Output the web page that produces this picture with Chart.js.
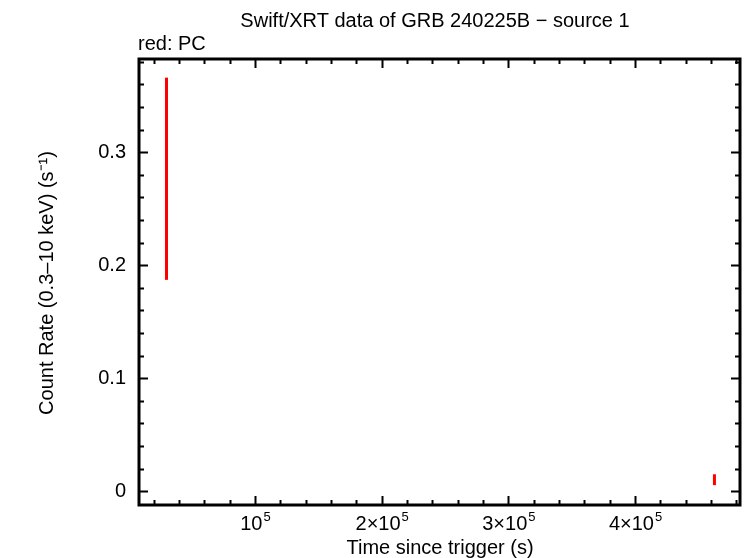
<!DOCTYPE html>
<html>
<head>
<meta charset="utf-8">
<script src="https://cdn.jsdelivr.net/npm/chart.js@4/dist/chart.umd.min.js"></script>
<style>
  html, body { margin: 0; padding: 0; background: #fff; }
  #wrap { width: 746px; height: 558px; }
</style>
</head>
<body>
<div id="wrap"><canvas id="lc" width="746" height="558"></canvas></div>
<script>
// PC mode points: time (s), count rate low / high edge of error bar (s^-1)
const pcTimes = [30150, 462700];
const pcRateLo = [0.187, 0.0053];
const pcRateHi = [0.366, 0.0149];

const xRange = [8445, 482870];
const yRange = [-0.0123, 0.3825];
const xMajor = [100000, 200000, 300000, 400000];
const xMant = ["", "2\u00d7", "3\u00d7", "4\u00d7"];
const yMajor = [0, 0.1, 0.2, 0.3];
const yLabels = ["0", "0.1", "0.2", "0.3"];

const font = "'Liberation Sans', Arial, sans-serif";

// one two-point dataset per error bar
let datasets = [];
for (let i = 0; i < pcTimes.length; i++) {
    datasets.push({
        data: [{x: pcTimes[i], y: pcRateLo[i]}, {x: pcTimes[i], y: pcRateHi[i]}],
        borderColor: "#ff0000",
        borderWidth: 3,
        pointRadius: 0,
        showLine: true,
        fill: false
    });
}

const framePlugin = {
    id: "frame",
    afterDraw(chart) {
        const ctx = chart.ctx;
        const a = chart.chartArea;
        const xs = chart.scales.x;
        const ys = chart.scales.y;
        ctx.save();
        ctx.strokeStyle = "#000";
        ctx.lineWidth = 2;

        // inward ticks on all four sides
        ctx.beginPath();
        for (let v = 0; v <= xRange[1]; v += 20000) {
            if (v < xRange[0]) continue;
            let px = Math.round(xs.getPixelForValue(v)) + 0.5;
            let len = (v % 100000 === 0) ? 9 : 5;
            ctx.moveTo(px, a.bottom); ctx.lineTo(px, a.bottom - len);
            ctx.moveTo(px, a.top); ctx.lineTo(px, a.top + len);
        }
        for (let k = -1; k <= 19; k++) {
            let v = k * 0.02;
            if (v < yRange[0] || v > yRange[1]) continue;
            let py = Math.round(ys.getPixelForValue(v)) + 0.5;
            let len = (k % 5 === 0) ? 9 : 5;
            ctx.moveTo(a.left, py); ctx.lineTo(a.left + len, py);
            ctx.moveTo(a.right, py); ctx.lineTo(a.right - len, py);
        }
        ctx.stroke();

        ctx.lineWidth = 3;
        ctx.strokeRect(a.left, a.top, a.right - a.left, a.bottom - a.top);

        ctx.fillStyle = "#000";
        ctx.textBaseline = "alphabetic";

        // x tick labels as mantissa x 10 with a raised exponent
        for (let i = 0; i < xMajor.length; i++) {
            let px = xs.getPixelForValue(xMajor[i]);
            let base = xMant[i] + "10";
            ctx.font = "20px " + font;
            let wb = ctx.measureText(base).width;
            ctx.font = "13px " + font;
            let we = ctx.measureText("5").width;
            let x0 = px - (wb + we) / 2;
            ctx.textAlign = "left";
            ctx.font = "20px " + font;
            ctx.fillText(base, x0, 530);
            ctx.font = "13px " + font;
            ctx.fillText("5", x0 + wb + 1, 521);
        }

        ctx.font = "20px " + font;
        ctx.textAlign = "center";
        ctx.fillText("Swift/XRT data of GRB 240225B \u2212 source 1", 435, 27);
        ctx.textAlign = "left";
        ctx.fillText("red: PC", 138, 50);

        ctx.textAlign = "center";
        ctx.fillText("Time since trigger (s)", 440, 554);

        ctx.translate(53, 283);
        ctx.rotate(-Math.PI / 2);
        ctx.fillText("Count Rate (0.3\u201310 keV) (s\u207b\u00b9)", 0, 0);
        ctx.restore();
    }
};

new Chart("lc", {
    type: "scatter",
    data: { datasets: datasets },
    options: {
        responsive: false,
        animation: false,
        layout: { padding: { left: 0, right: 6, top: 59, bottom: 0 } },
        plugins: { legend: { display: false }, tooltip: { enabled: false } },
        scales: {
            x: {
                type: "linear",
                min: xRange[0],
                max: xRange[1],
                grid: { display: false, drawTicks: false },
                border: { display: false },
                afterFit(scale) { scale.height = 53; },
                afterBuildTicks(scale) { scale.ticks = xMajor.map(v => ({value: v})); },
                ticks: { display: false }
            },
            y: {
                type: "linear",
                min: yRange[0],
                max: yRange[1],
                grid: { display: false, drawTicks: false },
                border: { display: false },
                afterFit(scale) { scale.width = 139; },
                afterBuildTicks(scale) { scale.ticks = yMajor.map(v => ({value: v})); },
                ticks: {
                    padding: 13,
                    color: "#000",
                    font: { family: font, size: 20 },
                    autoSkip: false,
                    callback: (v) => yLabels[yMajor.indexOf(v)]
                }
            }
        }
    },
    plugins: [framePlugin]
});
</script>
</body>
</html>
